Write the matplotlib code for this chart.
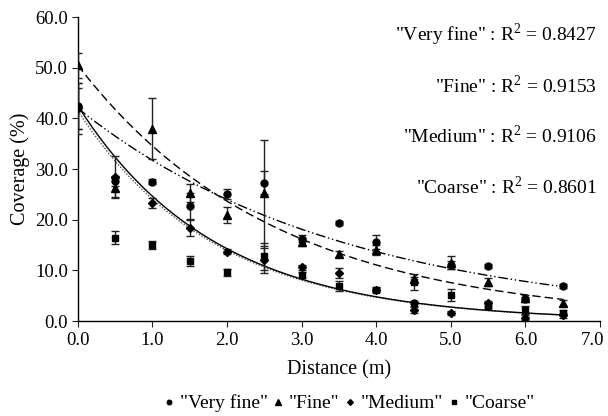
import numpy as np
import matplotlib
matplotlib.use('Agg')
import matplotlib.pyplot as plt
from matplotlib.lines import Line2D
from matplotlib.transforms import ScaledTranslation

plt.rcParams['font.family'] = ['Liberation Serif', 'DejaVu Serif']
plt.rcParams['mathtext.fontset'] = 'custom'
plt.rcParams['mathtext.rm'] = 'Liberation Serif'

# Данные
distance = [0.0, 0.5, 1.0, 1.5, 2.0, 2.5, 3.0, 3.5, 4.0, 4.5, 5.0, 5.5, 6.0, 6.5]

very_fine = [42.5, 27.6, 27.5, 22.7, 25.1, 27.3, 16.3, 19.3, 15.6, 3.5, 11.0, 10.8, 4.3, 6.9]
very_fine_err = [4.5, 1.0, 0.5, 2.6, 1.0, 2.3, 0.6, 0.4, 1.3, 0.5, 0.8, 0.4, 0.5, 0.4]
fine = [50.5, 26.2, 38.0, 25.3, 20.9, 25.3, 15.6, 13.3, 14.0, 8.3, 11.5, 7.8, 4.6, 3.5]
fine_err = [2.5, 2.0, 6.0, 1.7, 1.6, 10.5, 0.8, 0.6, 1.0, 0.5, 1.3, 0.8, 0.5, 0.6]
medium = [42.0, 28.5, 23.3, 18.4, 13.7, 12.0, 10.6, 9.5, 6.2, 2.2, 1.6, 3.5, 0.7, 1.2]
medium_err = [5.0, 4.0, 1.0, 1.6, 0.5, 2.5, 0.5, 1.0, 0.4, 0.5, 0.4, 0.5, 0.5, 0.5]
coarse = [42.0, 16.5, 15.1, 11.9, 9.6, 12.8, 9.1, 6.9, 6.2, 7.8, 5.1, 3.0, 2.2, 1.7]
coarse_err = [4.0, 1.2, 0.8, 1.0, 0.6, 2.7, 0.6, 1.0, 0.5, 1.6, 1.2, 0.5, 0.8, 0.5]

# Экспоненциальные тренды y = a * exp(-b x)
fit_a = [42.0, 50.5, 41.5, 42.5]
fit_b = [0.28, 0.379, 0.545, 0.545]
r2_labels = ['"Very fine" : R$^2$ = 0.8427', '"Fine" : R$^2$ = 0.9153',
             '"Medium" : R$^2$ = 0.9106', '"Coarse" : R$^2$ = 0.8601']
names = ['"Very fine"', '"Fine"', '"Medium"', '"Coarse"']

series = [very_fine, fine, medium, coarse]
errors = [very_fine_err, fine_err, medium_err, coarse_err]
markers = ['o', '^', 'D', 's']
msizes = [5, 6, 4.5, 5]
styles = [(0, (7, 2, 1, 2, 1, 2)), (0, (6, 3)), (0, (1, 1.2)), '-']
line_colors = ['black', 'black', '#555555', 'black']

fig = plt.figure(figsize=(6.08, 4.16), dpi=100)
ax = fig.add_axes([0.128, 0.228, 0.859, 0.731])

xs = np.linspace(0, 6.5, 200)
for a, b, ls, c in zip(fit_a, fit_b, styles, line_colors):
    ax.plot(xs, a * np.exp(-b * xs), ls=ls, color=c, lw=1.0, zorder=2)

for y, e, m, ms in zip(series, errors, markers, msizes):
    ax.errorbar(distance, y, yerr=e, fmt=m, color='black', ms=ms,
                ecolor='#222222', elinewidth=1.0, capsize=3, capthick=1.0, zorder=3)

ax.set_xlim(0, 7)
ax.set_ylim(0, 60)
ax.set_xticks(np.arange(0, 7.1, 1))
ax.set_yticks(np.arange(0, 61, 10))
ax.xaxis.set_major_formatter(matplotlib.ticker.FormatStrFormatter('%.1f'))
ax.yaxis.set_major_formatter(matplotlib.ticker.FormatStrFormatter('%.1f'))
ax.tick_params(direction='out', length=4, labelsize=13.5, color='#222222')
ax.tick_params(axis='x', pad=4)
ax.tick_params(axis='y', pad=3)
for s in ['top', 'right']:
    ax.spines[s].set_visible(False)
for s in ['left', 'bottom']:
    ax.spines[s].set_linewidth(1.0)
ax.set_xlabel('Distance (m)', fontsize=14.5, labelpad=8)
ax.set_ylabel('Coverage (%)', fontsize=14.5, labelpad=4)

# последняя подпись "7.0" не должна вылезать за край
fig.canvas.draw()
last = ax.get_xticklabels()[-1]
last.set_transform(last.get_transform() + ScaledTranslation(-8 / 100, 0, fig.dpi_scale_trans))

for i, t in enumerate(r2_labels):
    fig.text(597 / 608, 1 - (35 + 50.5 * i) / 416, t, ha='right', va='center', fontsize=14)

handles = [Line2D([], [], marker=m, color='black', ls='none', ms=ms * 0.65)
           for m, ms in zip(markers, msizes)]
fig.legend(handles, names, loc='center', bbox_to_anchor=(0.575, 0.03), ncol=4,
           frameon=False, fontsize=14, handlelength=0.5, handletextpad=0.3,
           columnspacing=0.3, borderpad=0.1)

fig.savefig('out.png', dpi=100)
